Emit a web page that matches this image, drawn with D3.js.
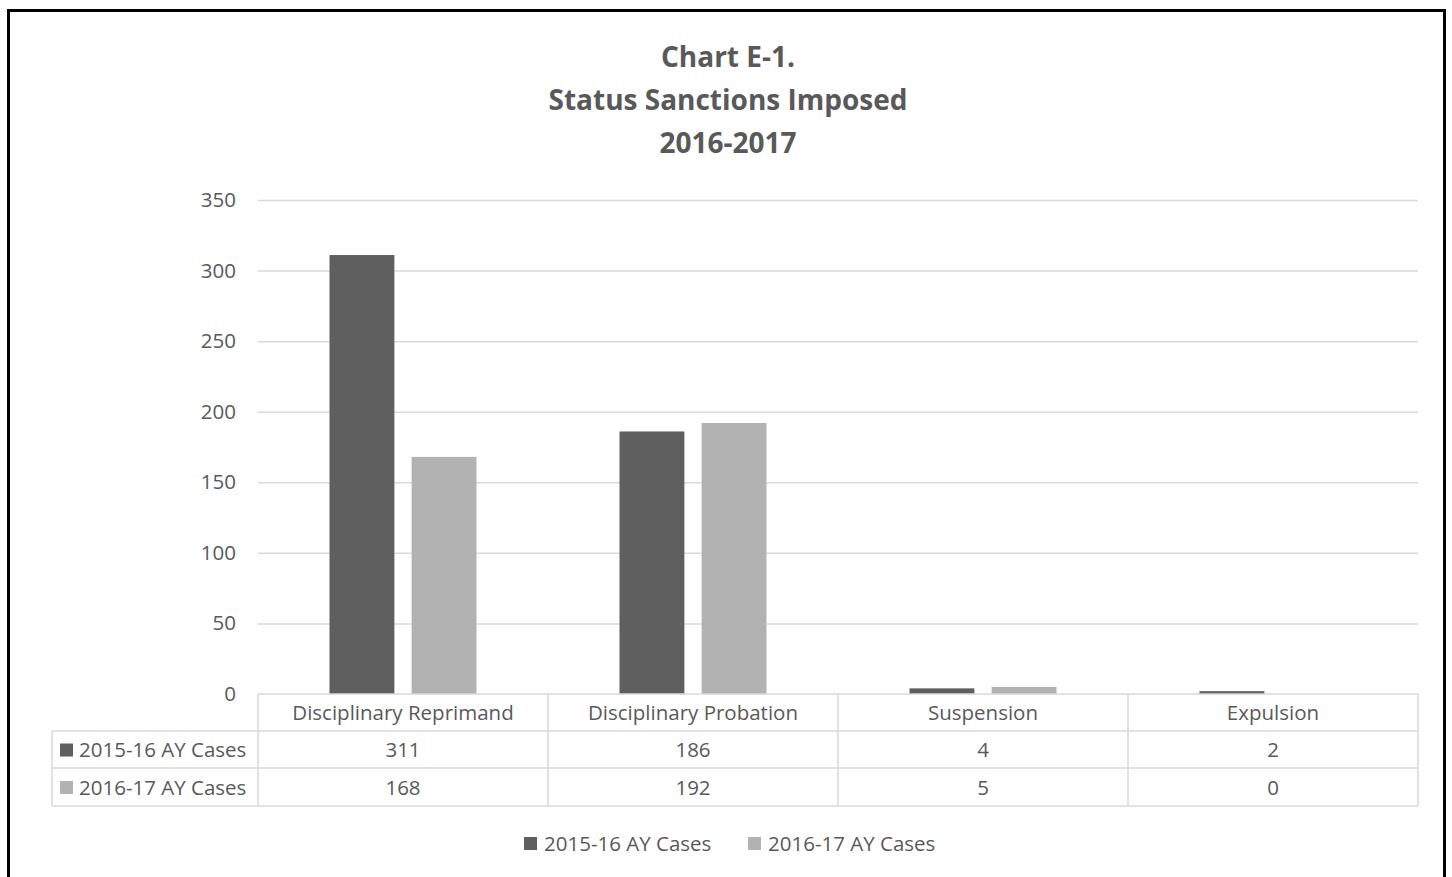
<!DOCTYPE html>
<html><head><meta charset="utf-8">
<script src="https://cdn.jsdelivr.net/npm/d3@7"></script>
<style>body{margin:0;background:#fff}svg{display:block}</style>
</head><body>
<script>
const categories = ["Disciplinary Reprimand","Disciplinary Probation","Suspension","Expulsion"];
const seriesNames = ["2015-16 AY Cases","2016-17 AY Cases"];
const values2015 = [311,186,4,2];
const values2016 = [168,192,5,0];
const yTicks = [0,50,100,150,200,250,300,350];
const titleLines = ["Chart E-1.","Status Sanctions Imposed","2016-2017"];
const colors = ["#5f5f5f","#b2b2b2"];
const series = [values2015, values2016];

const W=1452,H=877;
const font = "'Open Sans', sans-serif";
const txt = "#595959";
const fs = 20.5;
const svg = d3.select("body").append("svg").attr("width",W).attr("height",H);
svg.append("rect").attr("x",8.5).attr("y",10.5).attr("width",1436).attr("height",880).attr("fill","#fff").attr("stroke","#000").attr("stroke-width",3);

const L=258,R=1418,T=200,B=694;
const x = d3.scaleBand().domain(categories).range([L,R]);
const y = d3.scaleLinear().domain([0,350]).range([B,T]);
const xs = d3.scaleBand().domain([0,1]).range([0,147]).paddingInner(0.21);

svg.selectAll(".title").data(titleLines).join("text")
  .attr("x",728).attr("y",(d,i)=>67+i*43).attr("text-anchor","middle")
  .attr("font-family",font).attr("font-weight","bold").attr("font-size",28).attr("fill",txt).text(d=>d);

// gridlines
svg.append("g").selectAll("line").data(yTicks.filter(d=>d>0)).join("line")
  .attr("x1",L).attr("x2",R).attr("y1",d=>y(d)+0.5).attr("y2",d=>y(d)+0.5)
  .attr("stroke","#d9d9d9").attr("stroke-width",1.5);

const yAxis = d3.axisLeft(y).tickValues(yTicks).tickSize(0).tickPadding(22);
const ga = svg.append("g").attr("transform",`translate(${L},0)`).call(yAxis);
ga.select(".domain").remove();
ga.selectAll("text").attr("font-family",font).attr("font-size",fs).attr("fill",txt);

// bars
series.forEach((vals,si)=>{
  svg.append("g").selectAll("rect").data(vals).join("rect")
    .attr("x",(d,i)=>x(categories[i])+x.bandwidth()/2-73.5+xs(si))
    .attr("width",xs.bandwidth())
    .attr("y",d=>y(d)).attr("height",d=>B-y(d))
    .attr("fill",colors[si]);
});

// data table
const rows=[731,768,806];
const tg = svg.append("g").attr("stroke","#d9d9d9").attr("stroke-width",1.5).attr("fill","none");
tg.append("line").attr("x1",L).attr("x2",R).attr("y1",B).attr("y2",B);
[L,...categories.map(c=>x(c)+x.bandwidth())].forEach(xx=>{
  tg.append("line").attr("x1",xx).attr("x2",xx).attr("y1",B).attr("y2",rows[2]);
});
tg.append("line").attr("x1",52).attr("x2",52).attr("y1",rows[0]).attr("y2",rows[2]);
rows.forEach(r=>tg.append("line").attr("x1",52).attr("x2",R).attr("y1",r).attr("y2",r));

svg.append("g").selectAll("text").data(categories).join("text")
  .attr("x",d=>x(d)+x.bandwidth()/2).attr("y",720).attr("text-anchor","middle")
  .attr("font-family",font).attr("font-size",fs).attr("fill",txt).text(d=>d);

series.forEach((vals,si)=>{
  const cy = (rows[si]+rows[si+1])/2;
  const yy = cy+7.5;
  svg.append("g").selectAll("text").data(vals).join("text")
    .attr("x",(d,i)=>x(categories[i])+x.bandwidth()/2).attr("y",yy).attr("text-anchor","middle")
    .attr("font-family",font).attr("font-size",fs).attr("fill",txt).text(d=>d);
  svg.append("rect").attr("x",60).attr("y",cy-6).attr("width",13).attr("height",13).attr("fill",colors[si]);
  svg.append("text").attr("x",79).attr("y",yy).attr("font-family",font).attr("font-size",fs).attr("fill",txt).text(seriesNames[si]);
});

// legend
const lx=[524,748];
seriesNames.forEach((n,i)=>{
  svg.append("rect").attr("x",lx[i]).attr("y",837).attr("width",13).attr("height",13).attr("fill",colors[i]);
  svg.append("text").attr("x",lx[i]+20).attr("y",851).attr("font-family",font).attr("font-size",fs).attr("fill",txt).text(n);
});
</script>
</body></html>
